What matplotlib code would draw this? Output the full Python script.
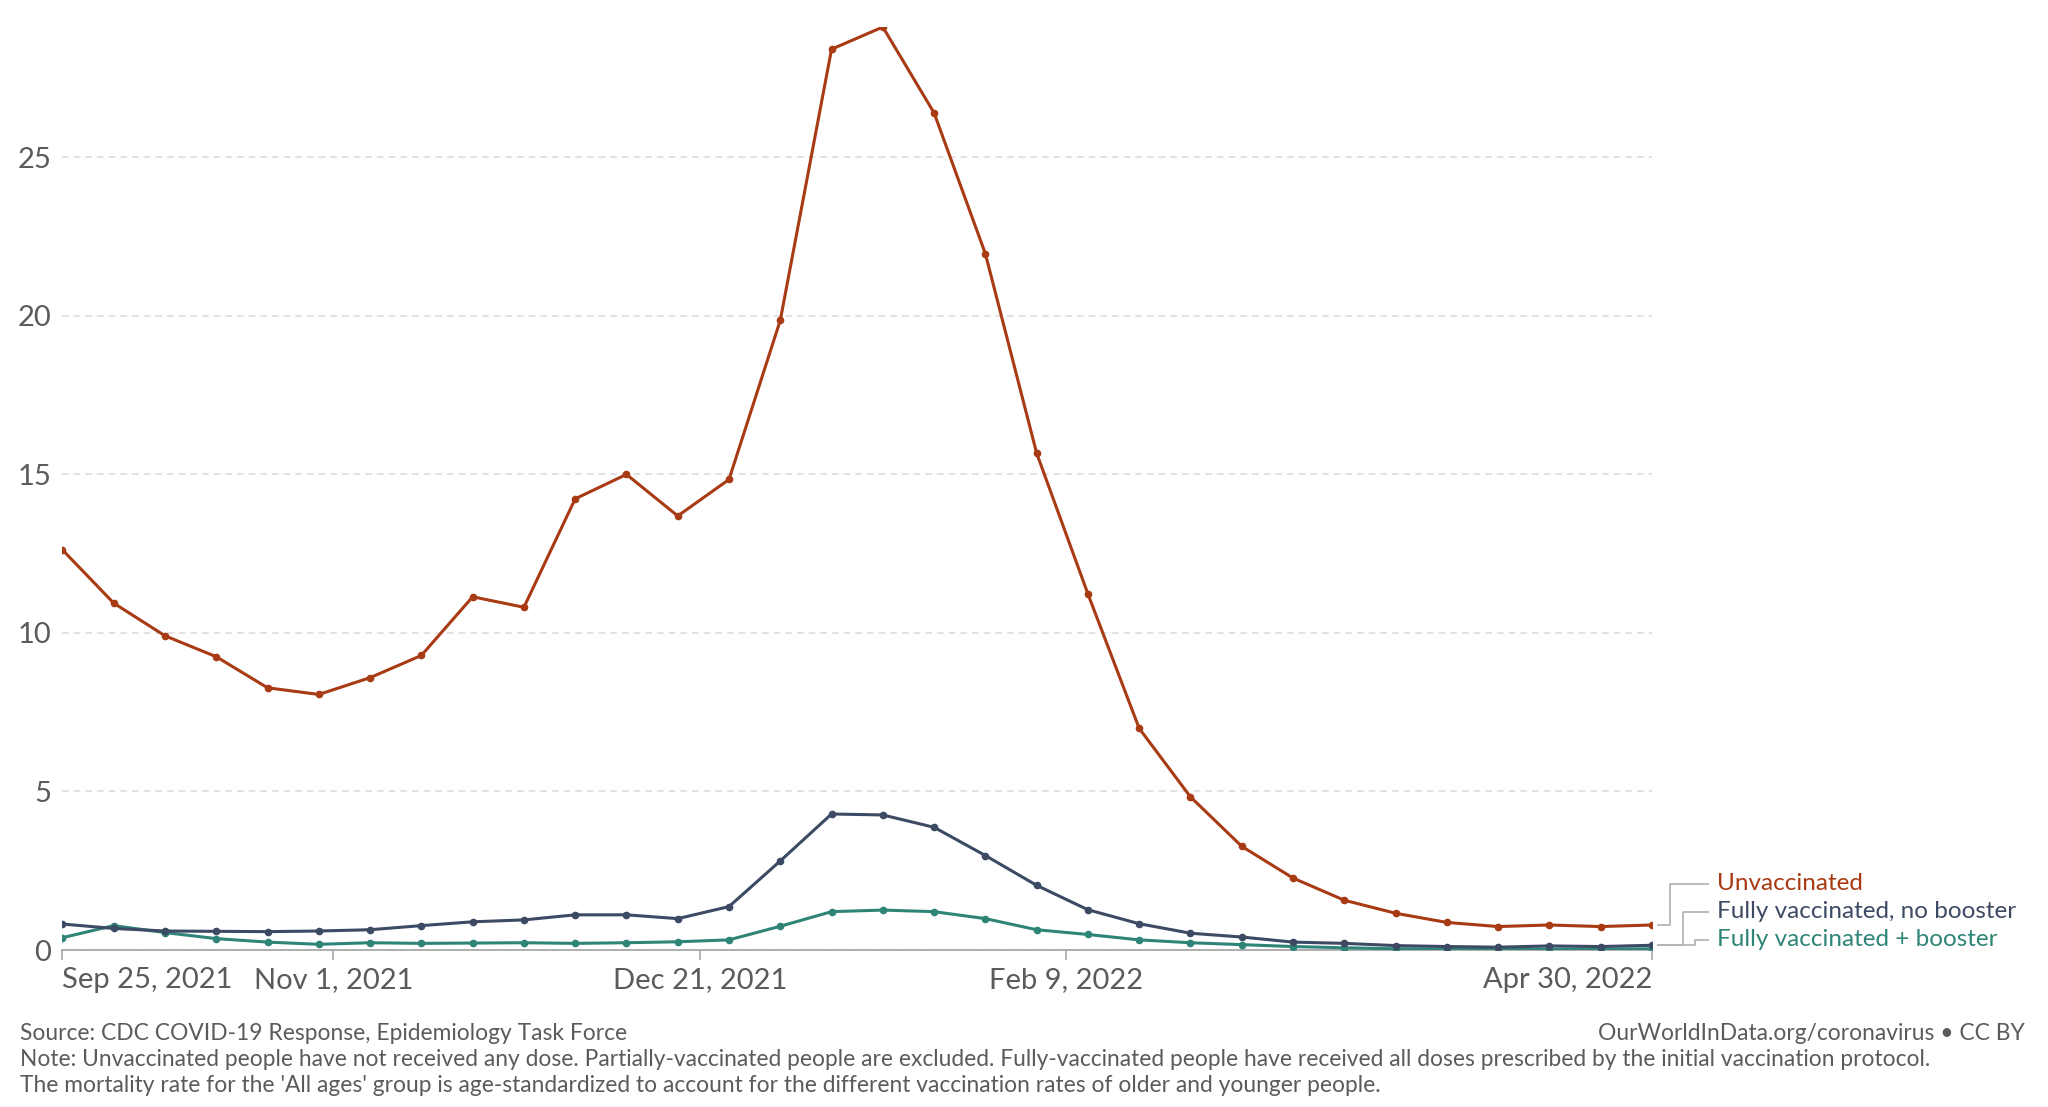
import matplotlib
matplotlib.use("Agg")
import matplotlib.pyplot as plt
import matplotlib.dates as mdates
import numpy as np
import pandas as pd

# Weekly death rates (per 100k)
dates = pd.date_range("2021-09-25", "2022-04-30", freq="7D")

unvaccinated = [12.62, 10.94, 9.91, 9.25, 8.27, 8.06, 8.59, 9.29, 11.14, 10.81,
                14.23, 15.0, 13.69, 14.84, 19.86, 28.41, 29.11, 26.40, 21.96, 15.67,
                11.23, 6.99, 4.83, 3.27, 2.27, 1.57, 1.16, 0.87, 0.74, 0.79, 0.74, 0.79]
no_booster = [0.82, 0.68, 0.60, 0.59, 0.58, 0.60, 0.64, 0.77, 0.89, 0.95,
              1.11, 1.11, 0.99, 1.37, 2.81, 4.29, 4.26, 3.87, 2.98, 2.04,
              1.27, 0.83, 0.53, 0.41, 0.25, 0.21, 0.14, 0.11, 0.09, 0.13, 0.11, 0.15]
booster = [0.39, 0.77, 0.55, 0.36, 0.25, 0.18, 0.23, 0.21, 0.22, 0.23,
           0.21, 0.23, 0.26, 0.32, 0.75, 1.21, 1.26, 1.21, 0.99, 0.64,
           0.49, 0.32, 0.23, 0.17, 0.11, 0.07, 0.04, 0.03, 0.03, 0.03, 0.03, 0.04]

series_names = ["Unvaccinated", "Fully vaccinated, no booster", "Fully vaccinated + booster"]
colors = ["#A83A14", "#3C4A64", "#2F8478"]

yticks = [0, 5, 10, 15, 20, 25]
xtick_dates = ["2021-09-25", "2021-11-01", "2021-12-21", "2022-02-09", "2022-04-30"]
xtick_labels = ["Sep 25, 2021", "Nov 1, 2021", "Dec 21, 2021", "Feb 9, 2022", "Apr 30, 2022"]

plt.rcParams["font.family"] = ["Lato", "DejaVu Sans"]

fig = plt.figure(figsize=(20.48, 11.07), dpi=100, facecolor="white")
ax = fig.add_axes([0.0305, 0.1418, 0.7761, 0.8338])

# draw back to front: booster, no booster, unvaccinated
for vals, c in zip([booster, no_booster, unvaccinated], [colors[2], colors[1], colors[0]]):
    ax.plot(dates, vals, color=c, lw=2.2, marker="o", ms=4.5, zorder=3)

ax.set_xlim(dates[0], dates[-1])
ax.set_ylim(0, max(unvaccinated))

# grid
ax.set_yticks(yticks)
ax.yaxis.grid(True, color="#dddddd", linestyle=(0, (4, 3)), lw=1.2)
ax.set_axisbelow(True)
ax.tick_params(axis="y", length=0, labelsize=21, labelcolor="#5b5b5b", pad=8)

for s in ["top", "right", "left"]:
    ax.spines[s].set_visible(False)
ax.spines["bottom"].set_color("#a8a8a8")
ax.spines["bottom"].set_linewidth(1.3)

xt = pd.to_datetime(xtick_dates)
ax.set_xticks(xt)
ax.set_xticklabels(xtick_labels)
ax.tick_params(axis="x", length=7, width=1.2, color="#a8a8a8", labelsize=21,
               labelcolor="#5b5b5b", pad=5)
labs = ax.get_xticklabels()
labs[0].set_ha("left")
labs[-1].set_ha("right")

# right-side labels with connector lines
to_fig = fig.transFigure.inverted()
label_y_px = [884, 912, 940]  # pixel rows from top
elbow_x = [1670, 1683, 1695]
end_vals = [unvaccinated[-1], no_booster[-1], no_booster[-1]]
xd = mdates.date2num(dates[-1])
for name, c, ypx, ex, v in zip(series_names, colors, label_y_px, elbow_x, end_vals):
    px, py = ax.transData.transform((xd, v))
    ly = 1107 - ypx
    xs = [px + 6, ex, ex, 1708]
    ys = [py, py, ly, ly]
    pts = to_fig.transform(np.column_stack([xs, ys]))
    fig.add_artist(plt.Line2D(pts[:, 0], pts[:, 1], color="#b5b5b5", lw=1.3,
                              transform=fig.transFigure))
    fig.text(1717 / 2048, ly / 1107, name, color=c, fontsize=17.5, va="center", ha="left")

# footer
grey = "#5b5b5b"
fig.text(20 / 2048, 1 - 1034 / 1107, "Source: CDC COVID-19 Response, Epidemiology Task Force",
         fontsize=16.4, color=grey, va="center")
fig.text(2025 / 2048, 1 - 1034 / 1107, "OurWorldInData.org/coronavirus • CC BY",
         fontsize=16.4, color=grey, va="center", ha="right")
fig.text(20 / 2048, 1 - 1060 / 1107,
         "Note: Unvaccinated people have not received any dose. Partially-vaccinated people are excluded. "
         "Fully-vaccinated people have received all doses prescribed by the initial vaccination protocol.",
         fontsize=16.4, color=grey, va="center")
fig.text(20 / 2048, 1 - 1086 / 1107,
         "The mortality rate for the 'All ages' group is age-standardized to account for the different "
         "vaccination rates of older and younger people.",
         fontsize=16.4, color=grey, va="center")

fig.savefig("out.png", dpi=100, facecolor="white")
